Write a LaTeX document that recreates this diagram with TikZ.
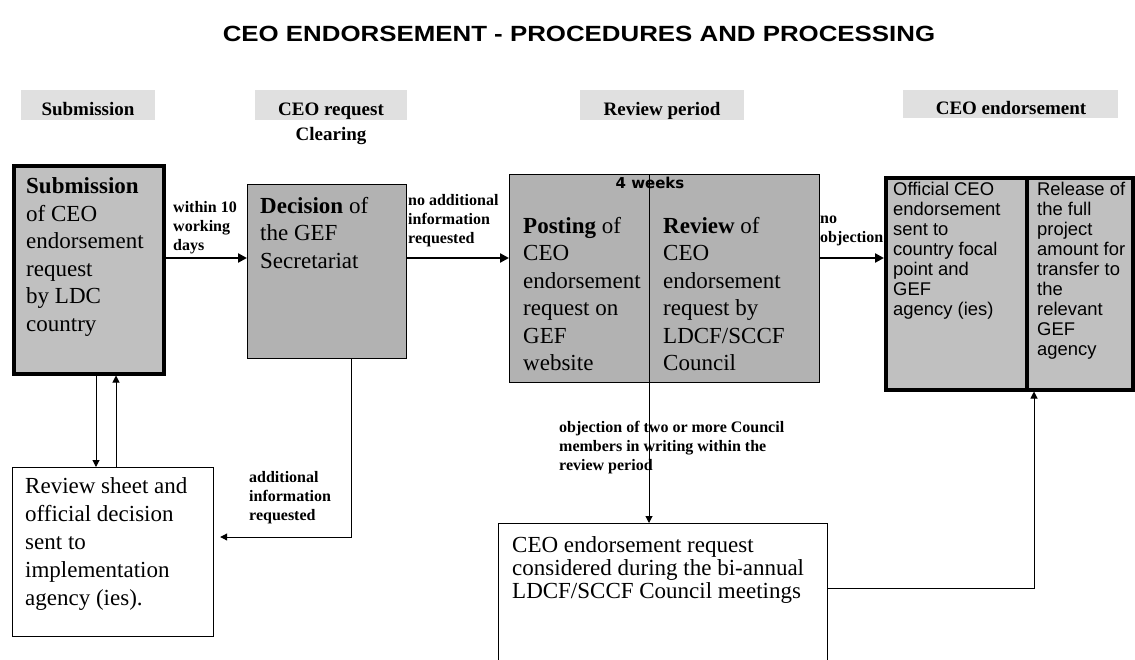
\documentclass[tikz,border=0pt]{standalone}
\usepackage{fontspec}
\setmainfont{Liberation Serif}
\setsansfont{Liberation Sans}
\newfontfamily\dejabold{DejaVu Sans}
\usepackage{graphicx}
\usepackage{tikz}
\usetikzlibrary{arrows.meta,calc}

\definecolor{headgrey}{HTML}{E0E0E0}
\definecolor{boxgrey}{HTML}{C0C0C0}
\definecolor{darkgrey}{HTML}{B2B2B2}

\begin{document}
\begin{tikzpicture}[x=1pt,y=-1pt,
  heading/.style={fill=headgrey,inner sep=0pt,anchor=north west},
  headtext/.style={font=\fontsize{19}{22}\selectfont\bfseries,anchor=base,inner sep=0pt},
  thickbox/.style={draw,line width=3.5pt,fill=boxgrey,anchor=north west,inner sep=0pt},
  thinbox/.style={draw,line width=1.2pt,fill=darkgrey,anchor=north west,inner sep=0pt},
  whitebox/.style={draw,line width=1.2pt,fill=white,anchor=north west,inner sep=0pt},
  boxtext/.style={font=\fontsize{23}{27.5}\selectfont,align=left,anchor=base west,inner sep=0pt},
  sanstext/.style={font=\sffamily\fontsize{18.4}{20}\selectfont,align=left,anchor=base west,inner sep=0pt},
  note/.style={font=\fontsize{16}{19}\selectfont\bfseries,align=left,anchor=base west,inner sep=0pt},
  bigarrow/.style={line width=2.6pt,-{Triangle[length=9pt,width=9pt]}},
  smallarrow/.style={line width=1pt,-{Triangle[length=7pt,width=7pt]}}
]
\useasboundingbox (0,0) rectangle (1135,659);
\clip (0,0) rectangle (1135,659);
\fill[white] (0,0) rectangle (1135,659);

% title and column headings
\node[font=\sffamily\bfseries\fontsize{22}{26}\selectfont,anchor=base] (title) at (579,41)
  {\scalebox{1.175}[1]{CEO ENDORSEMENT - PROCEDURES AND PROCESSING}};

\node[heading,minimum width=134pt,minimum height=30pt] (hsub) at (21,90) {};
\node[headtext] (hsubtxt) at (88,115) {Submission};
\node[heading,minimum width=152pt,minimum height=30pt] (hclear) at (255,90) {};
\node[headtext] (hcleartxt) at (331,115) {CEO request};
\node[headtext] (hclear2) at (331,140) {Clearing};
\node[heading,minimum width=164pt,minimum height=30pt] (hrev) at (580,90) {};
\node[headtext] (hrevtxt) at (662,115) {Review period};
\node[heading,minimum width=215pt,minimum height=28pt] (hendo) at (903,90) {};
\node[headtext] (hendotxt) at (1011,114) {CEO endorsement};

% boxes of the main row (text nodes sit on the baseline of their last line)
\node[thickbox,minimum width=150pt,minimum height=208pt] (sub) at (12,164) {};
\node[boxtext] (subtxt) at (26,331)
  {\textbf{Submission}\\of CEO\\endorsement\\request\\by LDC\\country};

\node[thinbox,minimum width=159pt,minimum height=174pt] (dec) at (247,184) {};
\node[boxtext] (dectxt) at (260,268) {\textbf{Decision} of\\the GEF\\Secretariat};

\node[thinbox,minimum width=310pt,minimum height=208pt] (post) at (509,174) {};
\node[font=\dejabold\bfseries\fontsize{15}{18}\selectfont,anchor=base,inner sep=0pt] (weeks) at (650,188) {4 weeks};
\node[boxtext] (posttxt) at (523,370.5)
  {\textbf{Posting} of\\CEO\\endorsement\\request on\\GEF\\website};
\node[boxtext] (revtxt) at (663,370.5)
  {\textbf{Review} of\\CEO\\endorsement\\request by\\LDCF/SCCF\\Council};

% label sits under the endorsement box
\node[note] (noobj) at (820,242) {no\\objection};

\node[thickbox,minimum width=141pt,minimum height=212pt] (endo) at (884,176) {};
\node[thickbox,minimum width=106pt,minimum height=212pt] (release) at (1025,176) {};
\node[sanstext] (endotxt) at (893,315)
  {Official CEO\\endorsement\\sent to\\country focal\\point and\\GEF\\agency (ies)};
\node[sanstext] (reltxt) at (1037,355)
  {Release of\\the full\\project\\amount for\\transfer to\\the\\relevant\\GEF\\agency};

% lower boxes
\node[whitebox,minimum width=201pt,minimum height=169pt] (sheet) at (12,467) {};
\node[boxtext,font=\fontsize{23}{28}\selectfont] (sheettxt) at (25,605)
  {Review sheet and\\official decision\\sent to\\implementation\\agency (ies).};

\node[whitebox,minimum width=329pt,minimum height=180pt] (council) at (498,523) {};
\node[boxtext,font=\fontsize{23}{23.3}\selectfont] (counciltxt) at (512,598.6)
  {CEO endorsement request\\considered during the bi-annual\\LDCF/SCCF Council meetings};

% arrow labels
\node[note] (within) at (173,250) {within 10\\working\\days};
\node[note] (noadd) at (408,243) {no additional\\information\\requested};
\node[note] (addinfo) at (249,520) {additional\\information\\requested};
\node[note] (objtwo) at (559,470)
  {objection of two or more Council\\members in writing within the\\review period};

% connectors
\coordinate (flow) at (0,258);
\draw[bigarrow] (sub.east |- flow) -- (dec.west |- flow);
\draw[bigarrow] (dec.east |- flow) -- (post.west |- flow);
\draw[bigarrow] (post.east |- flow) -- (endo.west |- flow);

\coordinate (down) at (96,0);
\coordinate (up) at (116,0);
\draw[smallarrow] (sub.south -| down) -- (sheet.north -| down);
\draw[smallarrow] (sheet.north -| up) -- (sub.south -| up);

\coordinate (ret) at (351,537);
\draw[smallarrow,shorten >=6pt] (dec.south -| ret) -- (ret) -- (sheet.east |- ret);

\coordinate (obj) at (649,0);
\draw[smallarrow] (post.north -| obj) -- (council.north -| obj);

\coordinate (back) at (1034,588);
\draw[smallarrow] (council.east |- back) -- (back) -- (release.south -| back);
\end{tikzpicture}
\end{document}
